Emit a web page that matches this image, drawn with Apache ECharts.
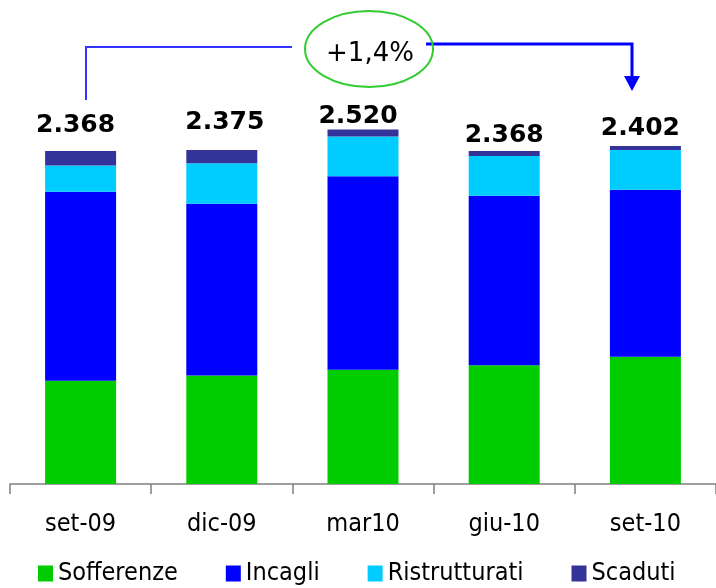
<!DOCTYPE html>
<html>
<head>
<meta charset="utf-8">
<script src="https://cdn.jsdelivr.net/npm/echarts@6/dist/echarts.min.js"></script>
<style>html,body{margin:0;padding:0;background:#fff}#c{width:716px;height:588px}</style>
</head>
<body>
<div id="c"></div>
<script>
var categories = ['set-09', 'dic-09', 'mar10', 'giu-10', 'set-10'];
var sofferenze = [734, 771, 812, 845, 904];
var incagli = [1343, 1221, 1376, 1205, 1188];
var ristrutturati = [187, 289, 282, 282, 282];
var scaduti = [104, 94, 50, 36, 28];
var totals = [2368, 2375, 2520, 2368, 2402];
var changeLabel = '+1,4%';

// label placement tweaks (styling only)
var labelShift = [[-5, -13], [3, -15], [-5, -1], [0, -3], [-5, -5]];

function fmt(v) { return String(v).replace(/\B(?=(\d{3})+(?!\d))/g, '.'); }

var chart = echarts.init(document.getElementById('c'), null, {renderer: 'canvas'});
var font = '"DejaVu Sans Condensed", "DejaVu Sans"';
var boldFont = '"DejaVu Sans"';

function bar(name, data, color) {
  return {
    name: name, type: 'bar', stack: 'tot', data: data, barWidth: 71,
    itemStyle: {color: color}, emphasis: {disabled: true}
  };
}

var topSeries = bar('Scaduti', scaduti.map(function (v, i) {
  return {value: v, label: {offset: labelShift[i]}};
}), '#333399');
topSeries.label = {
  show: true, position: 'top', distance: 0,
  fontFamily: boldFont, fontWeight: 'bold', fontSize: 25, color: '#000',
  lineHeight: 25,
  formatter: function (p) { return fmt(totals[p.dataIndex]); }
};

chart.setOption({
  animation: false,
  backgroundColor: '#fff',
  textStyle: {fontFamily: font},
  grid: {left: 10, right: -6, top: 62, bottom: 104, containLabel: false},
  legend: {
    left: 38, top: 561, padding: 0, itemWidth: 15, itemHeight: 16, itemGap: 48,
    icon: 'rect',
    textStyle: {fontFamily: font, fontSize: 25, color: '#000'},
    data: ['Sofferenze', 'Incagli', 'Ristrutturati', 'Scaduti']
  },
  xAxis: {
    type: 'category', data: categories, boundaryGap: true,
    axisLine: {lineStyle: {color: '#808080', width: 1.5}},
    axisTick: {show: true, length: 10, lineStyle: {color: '#808080', width: 1.5}},
    axisLabel: {fontFamily: font, fontSize: 25, color: '#000', margin: 28}
  },
  yAxis: {type: 'value', min: 0, max: 3000, show: false, splitLine: {show: false}},
  series: [
    bar('Sofferenze', sofferenze, '#00CC00'),
    bar('Incagli', incagli, '#0000FF'),
    bar('Ristrutturati', ristrutturati, '#00CCFF'),
    topSeries
  ],
  graphic: [
    {type: 'polyline', shape: {points: [[86, 100], [86, 47], [292, 47]]},
     style: {stroke: '#3333FF', lineWidth: 2, fill: null}},
    {type: 'polyline', shape: {points: [[426, 44], [632, 44], [632, 78]]},
     style: {stroke: '#0000FF', lineWidth: 3, fill: null}},
    {type: 'polygon', shape: {points: [[624, 76], [640, 76], [632, 91]]},
     style: {fill: '#0000FF'}},
    {type: 'ellipse', shape: {cx: 369, cy: 49, rx: 64, ry: 38},
     style: {stroke: '#33CC33', lineWidth: 2, fill: null}},
    {type: 'text', x: 370, y: 54,
     style: {text: changeLabel, fontFamily: '"DejaVu Sans"', fontSize: 26, fill: '#000',
             align: 'center', verticalAlign: 'middle'}}
  ]
});
</script>
</body>
</html>
